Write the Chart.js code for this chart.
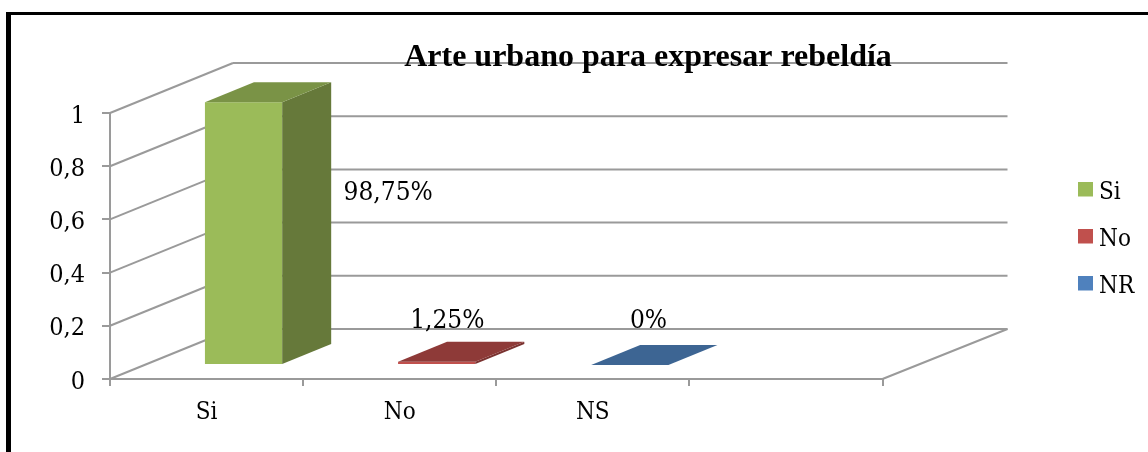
<!DOCTYPE html>
<html>
<head>
<meta charset="utf-8">
<script src="https://cdn.jsdelivr.net/npm/chart.js@4"></script>
<style>
html,body{margin:0;padding:0;background:#fff;overflow:hidden}
#wrap{position:relative;width:1148px;height:452px}
canvas{display:block}
#frame{position:absolute;left:6px;top:12px;right:0;bottom:0;border-left:5px solid #000;border-top:3.5px solid #000;pointer-events:none}
</style>
</head>
<body>
<div id="wrap"><canvas id="c" width="1148" height="452"></canvas><div id="frame"></div></div>
<script>
const titleText = 'Arte urbano para expresar rebeldía';
const categories = ['Si', 'No', 'NS', ''];
const seriesNames = ['Si', 'No', 'NR'];
const siValues = [0.9875, null, null, null];
const noValues = [null, 0.0125, null, null];
const nrValues = [null, null, 0, null];
const valueLabels = ['98,75%', '1,25%', '0%'];

const frontColors = ['#9bbb59', '#c0504d', '#4f81bd'];
const topColors = ['#7a9346', '#8e3a38', '#3d6593'];
const sideColors = ['#66793a', '#7a3230', '#315078'];
const GRID = '#9a9a9a';
const WALL = {dx: 123, dy: -50};
const BAR = {dx: 37, dy: -14, depthX: 49, depthY: -20};
const LABEL_POS = [{dx: 106, y: 193.5}, {dx: -28, y: 321.5}, {dx: -20, y: 321.5}];
const TEXT = '"DejaVu Serif Condensed"';

function line(ctx, x1, y1, x2, y2) {
  ctx.beginPath(); ctx.moveTo(x1, y1); ctx.lineTo(x2, y2); ctx.stroke();
}
function poly(ctx, pts, color) {
  ctx.fillStyle = color; ctx.beginPath();
  pts.forEach((p, i) => i ? ctx.lineTo(p[0], p[1]) : ctx.moveTo(p[0], p[1]));
  ctx.closePath(); ctx.fill();
}
function swatch(color) {
  const c = document.createElement('canvas');
  c.width = 15; c.height = 22;
  const g = c.getContext('2d');
  g.fillStyle = color; g.fillRect(0, 0, 15, 15);
  return c;
}

const threeD = {
  id: 'threeD',
  afterLayout(chart) {
    const t = chart.titleBlock;
    t.left = 648 - 300; t.right = 648 + 300; t.top = 58 - 19.2; t.bottom = t.top + 38.4;
    const l = chart.legend;
    const pad = l.options.labels.padding;
    l.left = 1084 - pad; l.right = 1148; l.top = 180.5 - pad; l.bottom = 340;
  },
  beforeDraw(chart) {
    const {ctx, chartArea: a, scales: {y}} = chart;
    ctx.save();
    ctx.fillStyle = '#fff'; ctx.fillRect(0, 0, chart.width, chart.height);
    ctx.strokeStyle = GRID; ctx.lineWidth = 2;
    y.ticks.forEach(t => {
      const py = y.getPixelForValue(t.value);
      line(ctx, a.left, py, a.left + WALL.dx, py + WALL.dy);
      line(ctx, a.left + WALL.dx, py + WALL.dy, a.right + WALL.dx + 2, py + WALL.dy);
    });
    line(ctx, a.right, a.bottom, a.right + WALL.dx + 2, a.bottom + WALL.dy);
    ctx.restore();
  },
  beforeDatasetsDraw(chart) {
    chart.ctx.save();
    chart.ctx.translate(BAR.dx, BAR.dy);
  },
  afterDatasetsDraw(chart) {
    const {ctx} = chart;
    ctx.restore();
    ctx.save();
    chart.data.datasets.forEach((ds, i) => {
      const meta = chart.getDatasetMeta(i);
      meta.data.forEach((el, j) => {
        if (ds.data[j] === null) return;
        const p = el.getProps(['x', 'y', 'base', 'width'], true);
        const l = p.x - p.width / 2 + BAR.dx, r = p.x + p.width / 2 + BAR.dx;
        const t = p.y + BAR.dy, b = p.base + BAR.dy;
        poly(ctx, [[r, t], [r + BAR.depthX, t + BAR.depthY], [r + BAR.depthX, b + BAR.depthY], [r, b]], sideColors[i]);
        poly(ctx, [[l, t], [r, t], [r + BAR.depthX, t + BAR.depthY], [l + BAR.depthX, t + BAR.depthY]], topColors[i]);
        ctx.fillStyle = '#000';
        ctx.font = '26px ' + TEXT;
        ctx.textAlign = 'center'; ctx.textBaseline = 'middle';
        ctx.fillText(valueLabels[i], r + LABEL_POS[i].dx, LABEL_POS[i].y);
      });
    });
    ctx.restore();
  }
};

const makeSet = (label, data, i) => ({
  label, data, backgroundColor: frontColors[i], borderWidth: 0, clip: false
});

new Chart(document.getElementById('c'), {
  type: 'bar',
  data: {
    labels: categories,
    datasets: [makeSet(seriesNames[0], siValues, 0), makeSet(seriesNames[1], noValues, 1), makeSet(seriesNames[2], nrValues, 2)]
  },
  plugins: [threeD],
  options: {
    responsive: false,
    animation: false,
    events: [],
    grouped: false,
    categoryPercentage: 1,
    barPercentage: 0.4,
    layout: {padding: {top: 74.6, left: 0, right: 265.5, bottom: 0}},
    plugins: {
      tooltip: {enabled: false},
      title: {
        display: true, text: titleText, color: '#000', padding: 0,
        font: {family: '"Liberation Serif"', size: 32, weight: 'bold', lineHeight: 1.2}
      },
      legend: {
        position: 'chartArea', align: 'start',
        labels: {
          color: '#000', usePointStyle: true, pointStyleWidth: 3, padding: 23,
          font: {family: TEXT, size: 24},
          generateLabels(chart) {
            return chart.data.datasets.map((d, i) => ({
              text: d.label, fillStyle: d.backgroundColor, strokeStyle: d.backgroundColor,
              pointStyle: swatch(d.backgroundColor), lineWidth: 0, datasetIndex: i, fontColor: '#000'
            }));
          }
        }
      }
    },
    scales: {
      x: {
        afterFit(s) { s.height = 73; },
        border: {color: GRID, width: 2},
        grid: {drawOnChartArea: false, color: GRID, lineWidth: 2, tickLength: 7},
        ticks: {color: '#000', padding: 12, maxRotation: 0, autoSkip: false, font: {family: TEXT, size: 24}}
      },
      y: {
        min: 0, max: 1,
        afterFit(s) { s.width = 110; },
        border: {color: GRID, width: 2},
        grid: {drawOnChartArea: false, color: GRID, lineWidth: 2, tickLength: 8},
        ticks: {
          stepSize: 0.2, color: '#000', padding: 17, labelOffset: 3, font: {family: TEXT, size: 25},
          callback: v => String(Math.round(v * 10) / 10).replace('.', ',')
        }
      }
    }
  }
});
</script>
</body>
</html>
